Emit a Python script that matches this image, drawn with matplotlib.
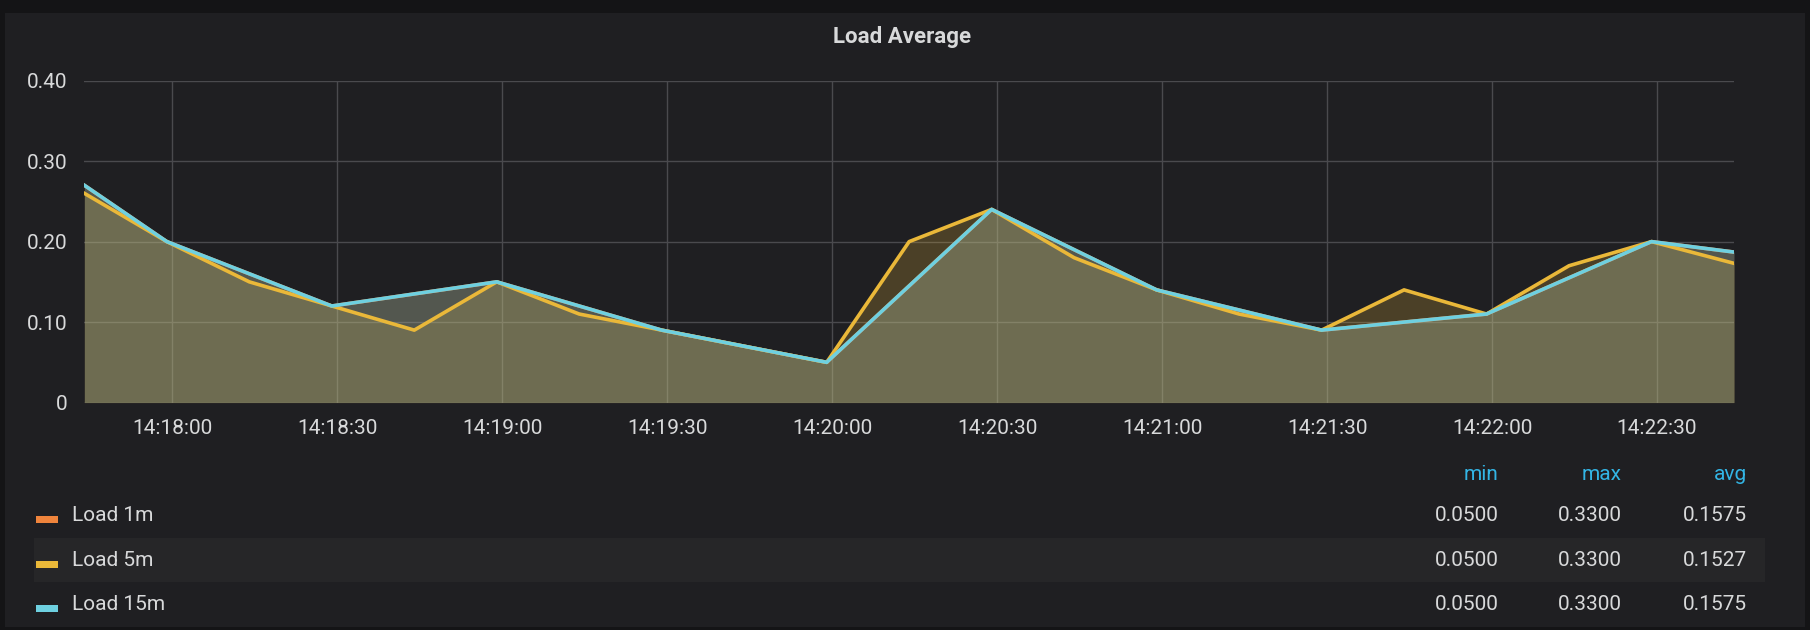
import matplotlib
matplotlib.use("Agg")
import matplotlib.pyplot as plt
import matplotlib.dates as mdates
from matplotlib.patches import Rectangle
import numpy as np
import datetime as dt

plt.rcParams['font.family'] = ['Roboto', 'DejaVu Sans']

# data ****************************************************************
t0 = dt.datetime(2020, 1, 1, 14, 17, 44)
times = [t0 + dt.timedelta(seconds=15 * i) for i in range(21)]
load5 = [0.26, 0.20, 0.15, 0.12, 0.09, 0.15, 0.11, 0.09, 0.07, 0.05, 0.20,
         0.24, 0.18, 0.14, 0.11, 0.09, 0.14, 0.11, 0.17, 0.20, 0.173]
load15 = [0.27, 0.20, 0.16, 0.12, 0.135, 0.15, 0.12, 0.09, 0.07, 0.05, 0.145,
          0.24, 0.19, 0.14, 0.115, 0.09, 0.10, 0.11, 0.155, 0.20, 0.187]
load1 = load15
names = ["Load 1m", "Load 5m", "Load 15m"]
colors = ["#ef843c", "#eab839", "#6ed0e0"]
mins = ["0.0500", "0.0500", "0.0500"]
maxs = ["0.3300", "0.3300", "0.3300"]
avgs = ["0.1575", "0.1527", "0.1575"]
xticks = [dt.datetime(2020, 1, 1, 14, 18, 0) + dt.timedelta(seconds=30 * i) for i in range(10)]

BG = "#1f1f22"
fig = plt.figure(figsize=(18.10, 6.30), dpi=100, facecolor="#141416")
fig.patches.append(Rectangle((0.003, 0.005), 0.994, 0.975, transform=fig.transFigure,
                             facecolor=BG, edgecolor="none", zorder=-10))
ax = fig.add_axes([0.0466, 0.361, 0.9114, 0.511], facecolor=BG)

for ys, c in zip([load1, load5, load15], colors):
    ax.fill_between(times, ys, 0, color=c, alpha=0.22, lw=0)
for ys, c in zip([load1, load5, load15], colors):
    ax.plot(times, ys, color=c, lw=2.6)

ax.set_ylim(0, 0.40)
ax.set_xlim(times[0], times[-1])
ax.set_yticks([0, 0.1, 0.2, 0.3, 0.4])
ax.set_yticklabels(["0", "0.10", "0.20", "0.30", "0.40"])
ax.set_xticks(xticks)
ax.xaxis.set_major_formatter(mdates.DateFormatter("%H:%M:%S"))
ax.grid(True, color="#4a4a4e", lw=1)
ax.set_axisbelow(True)
ax.tick_params(colors="#d8d9da", labelsize=15, length=0, pad=12)
for s in ax.spines.values():
    s.set_visible(False)

fig.text(0.4985, 0.942, "Load Average", color="#d8d9da", fontsize=16,
         fontweight="bold", ha="center", va="center")

# legend table
fig.patches.append(Rectangle((0.019, 0.076), 0.956, 0.07, transform=fig.transFigure,
                             facecolor="#262628", edgecolor="none", zorder=-5))
fig.text(0.828, 0.247, "min", color="#33b5e5", fontsize=15, ha="right", va="center")
fig.text(0.896, 0.247, "max", color="#33b5e5", fontsize=15, ha="right", va="center")
fig.text(0.965, 0.247, "avg", color="#33b5e5", fontsize=15, ha="right", va="center")
rows_y = [0.182, 0.111, 0.041]
for y, n, c, a, b, v in zip(rows_y, names, colors, mins, maxs, avgs):
    fig.patches.append(Rectangle((0.020, y - 0.012), 0.012, 0.011, transform=fig.transFigure,
                                 facecolor=c, edgecolor="none"))
    fig.text(0.040, y, n, color="#d8d9da", fontsize=15, va="center")
    fig.text(0.828, y, a, color="#d8d9da", fontsize=15, ha="right", va="center")
    fig.text(0.896, y, b, color="#d8d9da", fontsize=15, ha="right", va="center")
    fig.text(0.965, y, v, color="#d8d9da", fontsize=15, ha="right", va="center")

fig.savefig("out.png", dpi=100, facecolor=fig.get_facecolor())
